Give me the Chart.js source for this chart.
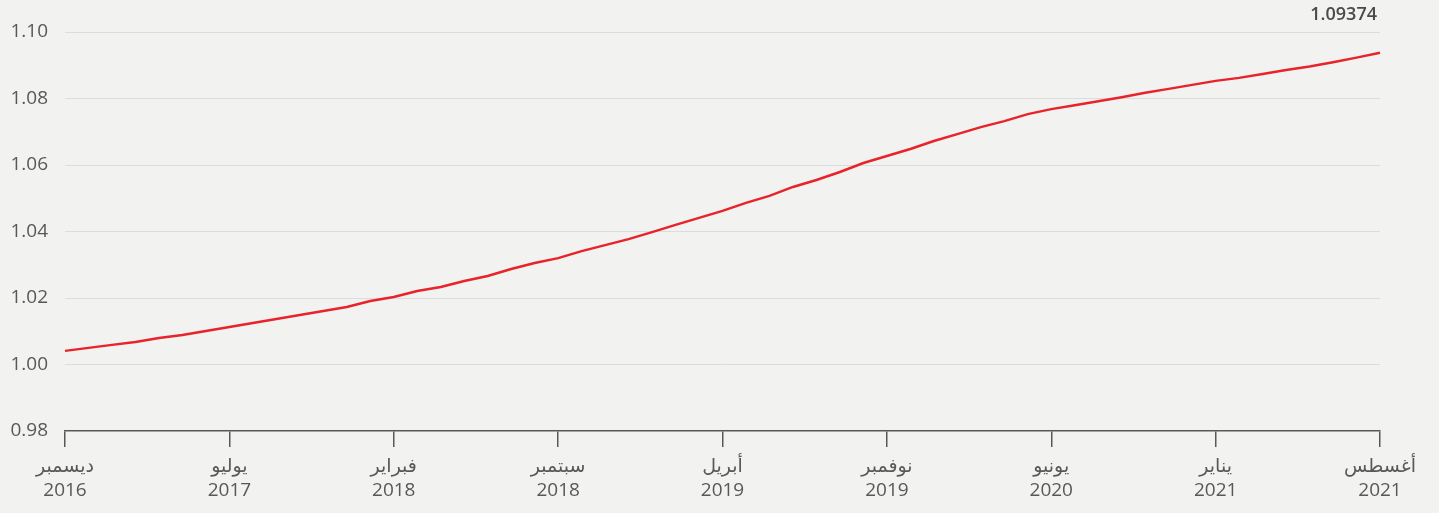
<!DOCTYPE html>
<html lang="ar">
<head>
<meta charset="utf-8">
<title>1.09374</title>
<script src="https://cdn.jsdelivr.net/npm/chart.js@4/dist/chart.umd.min.js"></script>
<style>
    html, body { margin: 0; padding: 0; background: #f2f2f1; }
    #wrap { position: relative; width: 1439px; height: 513px; }
</style>
</head>
<body>
<div id="wrap"><canvas id="indexChart"></canvas></div>
<script>
// months Dec 2016 .. Aug 2021 (57 points), labels every 7 months
const monthNames = ['ديسمبر', 'يوليو', 'فبراير', 'سبتمبر', 'أبريل', 'نوفمبر', 'يونيو', 'يناير', 'أغسطس'];
const tickYears = ['2016', '2017', '2018', '2018', '2019', '2019', '2020', '2021', '2021'];
const labelStep = 7;

const indexValues = [
    1.0041, 1.0050, 1.0059, 1.0068, 1.0080, 1.0089, 1.0101, 1.0113,
    1.0125, 1.0137, 1.0149, 1.0161, 1.0173, 1.0191, 1.0203, 1.0221,
    1.0233, 1.0251, 1.0266, 1.0287, 1.0305, 1.0320, 1.0341, 1.0359,
    1.0377, 1.0398, 1.0420, 1.0441, 1.0462, 1.0486, 1.0507, 1.0534,
    1.0555, 1.0579, 1.0606, 1.0627, 1.0648, 1.0672, 1.0693, 1.0714,
    1.0732, 1.0753, 1.0768, 1.0780, 1.0792, 1.0804, 1.0817, 1.0829,
    1.0841, 1.0853, 1.0862, 1.0874, 1.0886, 1.0896, 1.0909, 1.0923,
    1.09374
];
const lastLabel = '1.09374';

const yMin = 0.98;
const yMax = 1.10;
const yStep = 0.02;

const colors = {
    line: '#e8232a',
    text: '#58585a',
    axis: '#58585a',
    grid: '#dcdcdc'
};
const fontFamily = "'Open Sans', 'DejaVu Sans', sans-serif";

const monthLabels = indexValues.map((v, i) => i);

// value label above the last point
const endLabel = {
    id: 'endLabel',
    afterDatasetsDraw(chart) {
        const meta = chart.getDatasetMeta(0);
        const pt = meta.data[meta.data.length - 1];
        const ctx = chart.ctx;
        ctx.save();
        ctx.font = '600 18px ' + fontFamily;
        ctx.fillStyle = '#4a4a4c';
        ctx.textAlign = 'right';
        ctx.textBaseline = 'middle';
        ctx.fillText(lastLabel, pt.x - 3, chart.chartArea.top - 17);
        ctx.restore();
    }
};

new Chart(document.getElementById('indexChart'), {
    type: 'line',
    data: {
        labels: monthLabels,
        datasets: [{
            data: indexValues,
            borderColor: colors.line,
            borderWidth: 2.5,
            pointRadius: 0,
            tension: 0,
            fill: false
        }]
    },
    options: {
        responsive: true,
        maintainAspectRatio: false,
        animation: false,
        layout: { padding: { top: 32, right: 59, left: 0, bottom: 0 } },
        plugins: {
            legend: { display: false },
            tooltip: { enabled: false }
        },
        scales: {
            x: {
                afterFit: (scale) => { scale.height = 82; },
                border: { display: true, color: colors.axis, width: 1.5 },
                grid: {
                    drawOnChartArea: false,
                    drawTicks: true,
                    tickLength: 16,
                    color: colors.axis,
                    lineWidth: 1.5
                },
                ticks: {
                    autoSkip: false,
                    maxRotation: 0,
                    padding: 7,
                    color: colors.text,
                    font: { family: fontFamily, size: 19, lineHeight: 1.3 },
                    callback: function(value, index) {
                        if (index % labelStep !== 0) return null;
                        const k = index / labelStep;
                        return [monthNames[k], tickYears[k]];
                    }
                }
            },
            y: {
                min: yMin,
                max: yMax,
                afterFit: (scale) => { scale.width = 65; },
                border: { display: false },
                grid: {
                    drawTicks: false,
                    lineWidth: 1,
                    color: (c) => (c.tick && Math.abs(c.tick.value - yMin) < 1e-6) ? 'rgba(0,0,0,0)' : colors.grid
                },
                ticks: {
                    stepSize: yStep,
                    padding: 17,
                    color: colors.text,
                    font: { family: fontFamily, size: 19 },
                    callback: (v) => v.toFixed(2)
                }
            }
        }
    },
    plugins: [endLabel]
});
</script>
</body>
</html>
